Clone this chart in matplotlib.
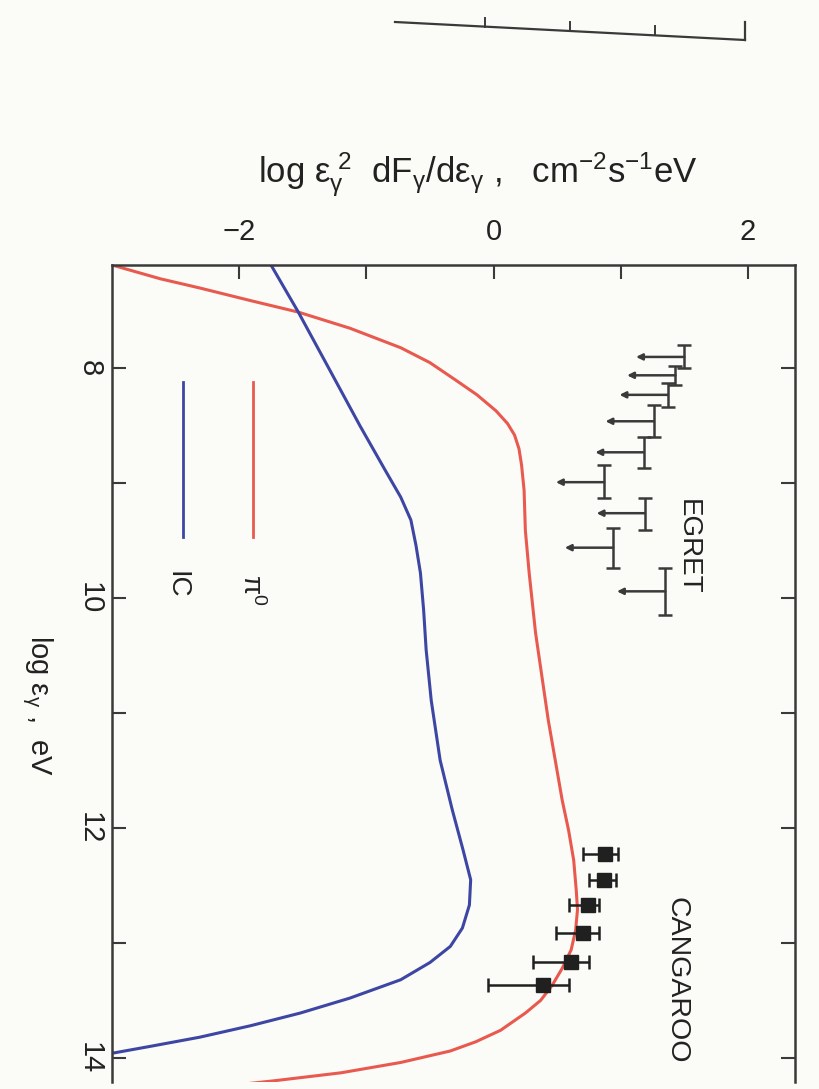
import numpy as np
import matplotlib
matplotlib.use("Agg")
import matplotlib.pyplot as plt
from matplotlib.lines import Line2D

# Model curves: log flux (horizontal on page) vs log photon energy (vertical on page)
pi0_flux = [-3.00, -2.62, -2.31, -1.91, -1.535, -1.13, -0.73, -0.50, -0.30, -0.13, 0.02,
            0.11, 0.165, 0.20, 0.22, 0.24, 0.25, 0.28, 0.33, 0.43, 0.54, 0.59, 0.63, 0.65,
            0.66, 0.645, 0.61, 0.54, 0.46, 0.37, 0.25, 0.055, -0.14, -0.34, -0.73, -1.20,
            -1.73, -2.15]
pi0_energy = [7.10, 7.22, 7.30, 7.41, 7.51, 7.65, 7.82, 7.95, 8.10, 8.23, 8.37,
              8.48, 8.58, 8.70, 8.84, 9.06, 9.41, 9.78, 10.30, 11.06, 11.76, 12.02, 12.28, 12.54,
              12.71, 12.89, 13.06, 13.22, 13.37, 13.50, 13.61, 13.76, 13.86, 13.94, 14.04, 14.13,
              14.20, 14.25]

ic_flux = [-1.75, -1.535, -1.28, -1.05, -0.85, -0.73, -0.65, -0.61, -0.575, -0.55, -0.53,
           -0.49, -0.42, -0.325, -0.24, -0.18, -0.19, -0.245, -0.34, -0.50, -0.73, -1.13,
           -1.52, -1.91, -2.31, -2.70, -3.00]
ic_energy = [7.10, 7.51, 8.03, 8.50, 8.89, 9.12, 9.32, 9.54, 9.78, 10.10, 10.45,
             10.89, 11.41, 11.84, 12.19, 12.45, 12.67, 12.87, 13.03, 13.17, 13.32, 13.48,
             13.61, 13.72, 13.82, 13.90, 13.96]

# EGRET upper limits
egret_flux = [1.50, 1.43, 1.37, 1.26, 1.18, 0.87, 1.19, 0.94, 1.35]
egret_energy = [7.90, 8.06, 8.23, 8.46, 8.73, 8.99, 9.26, 9.56, 9.94]
egret_e_lo = [7.80, 7.98, 8.13, 8.32, 8.60, 8.84, 9.13, 9.39, 9.74]
egret_e_hi = [8.00, 8.14, 8.34, 8.60, 8.87, 9.13, 9.41, 9.74, 10.15]

# CANGAROO points
cang_energy = [12.23, 12.45, 12.67, 12.91, 13.17, 13.37]
cang_flux = [0.88, 0.87, 0.74, 0.70, 0.61, 0.39]
cang_lo = [0.70, 0.75, 0.59, 0.49, 0.31, -0.04]
cang_hi = [0.98, 0.96, 0.83, 0.83, 0.75, 0.59]

flux_ticks = [-2, -1, 0, 1, 2]
energy_ticks = [8, 9, 10, 11, 12, 13, 14]

RED = "#e85a4f"
BLUE = "#3d47a3"
INK = "#3a3a3a"
BG = "#fbfbf7"

plt.rcParams['font.family'] = ['Liberation Sans Narrow', 'Liberation Sans', 'DejaVu Sans']
plt.rcParams['mathtext.default'] = 'regular'
WIDE = ['Liberation Sans', 'DejaVu Sans']

fig = plt.figure(figsize=(8.19, 10.89), dpi=100, facecolor=BG)
W, H = 819, 1089
x0, x1, y0, y1 = 112, 795, 265, 1082
ax = fig.add_axes([x0 / W, 1 - y1 / H, (x1 - x0) / W, (y1 - y0) / H])
ax.set_facecolor(BG)

ax.plot(pi0_flux, pi0_energy, color=RED, lw=2.2)
ax.plot(ic_flux, ic_energy, color=BLUE, lw=2.2)

# EGRET: energy bins with upper-limit arrows
e = np.array(egret_energy)
ax.errorbar(egret_flux, e, yerr=[e - np.array(egret_e_lo), np.array(egret_e_hi) - e],
            fmt='none', ecolor=INK, elinewidth=1.8, capsize=5, capthick=1.8)
for f, en in zip(egret_flux, egret_energy):
    ax.annotate('', xy=(f - 0.38, en), xytext=(f, en),
                arrowprops=dict(arrowstyle='-|>', color=INK, lw=1.8,
                                mutation_scale=9, shrinkA=0, shrinkB=0))

# CANGAROO
cf = np.array(cang_flux)
ax.errorbar(cf, cang_energy, xerr=[cf - np.array(cang_lo), np.array(cang_hi) - cf],
            fmt='s', ms=10, color='#202020', ecolor='#202020', elinewidth=1.8,
            capsize=5, capthick=1.8)

ax.set_xlim(-3, 2.37)
ax.set_ylim(14.21, 7.10)

for s in ['top', 'left', 'right']:
    ax.spines[s].set_color(INK)
    ax.spines[s].set_linewidth(1.8)
ax.spines['bottom'].set_visible(False)

ax.xaxis.tick_top()
ax.set_xticks(flux_ticks)
ax.set_xticklabels(['\u22122', '', '0', '', '2'])
ax.tick_params(axis='x', direction='in', length=10, width=1.5, color=INK,
               labelsize=21, pad=14, labelcolor='#222')
ax.set_yticks(energy_ticks)
ax.set_yticklabels(['8', '', '10', '', '12', '', '14'])
ax.tick_params(axis='y', direction='in', length=10, width=1.5, color=INK,
               labelsize=21, pad=6, labelrotation=-90, right=True, labelcolor='#222')
for lab in ax.get_yticklabels():
    lab.set_va('center')

ax.xaxis.set_label_position('top')
ax.set_xlabel(r'log $ε_γ^{\ 2}$  $dF_γ/dε_γ$ ,   $cm^{-2}s^{-1}eV$', fontsize=25,
              color='#222', family=WIDE)
ax.xaxis.set_label_coords(0.536, 1.100)

ax.set_ylabel(r'log $ε_γ$ ,  eV', fontsize=21, rotation=-90, color='#222', va='center')
ax.yaxis.set_label_coords(-0.11, 0.461)

# rotated legend
ax.add_line(Line2D([0.104, 0.104], [0.857, 0.667], transform=ax.transAxes, color=BLUE, lw=2))
ax.add_line(Line2D([0.206, 0.206], [0.857, 0.667], transform=ax.transAxes, color=RED, lw=2))
ax.text(0.095, 0.608, 'IC', transform=ax.transAxes, rotation=-90, fontsize=20,
        ha='center', va='center', color='#222')
ax.text(0.204, 0.602, r'$π^0$', transform=ax.transAxes, rotation=-90, fontsize=20,
        ha='center', va='center', color='#222')

ax.text(0.843, 0.655, 'EGRET', transform=ax.transAxes, rotation=-90, fontsize=20,
        ha='center', va='center', color='#222')
ax.text(0.827, 0.125, 'CANGAROO', transform=ax.transAxes, rotation=-90, fontsize=20.5,
        ha='center', va='center', color='#222')

# fragment of the panel above
frag_x = np.array([395, 745]) / W
frag_y = 1 - np.array([22, 40]) / H
fig.add_artist(Line2D(frag_x, frag_y, color=INK, lw=1.6))
fig.add_artist(Line2D([745 / W, 745 / W], [1 - 40 / H, 1 - 22 / H], color=INK, lw=1.6))
for tx in [485, 570, 655]:
    ty = 22 + (tx - 395) * 18 / 350
    fig.add_artist(Line2D([tx / W, tx / W], [1 - ty / H, 1 - (ty - 9) / H], color=INK, lw=1.4))

fig.savefig('out.png', dpi=100, facecolor=BG)
